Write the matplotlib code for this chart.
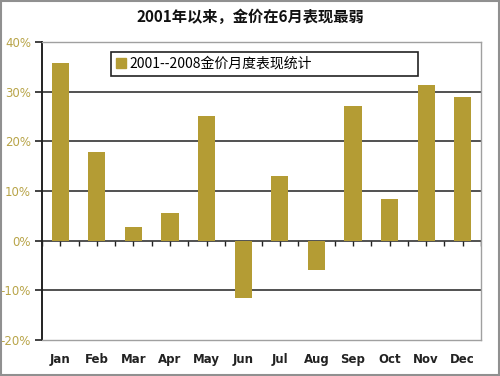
import matplotlib
matplotlib.use("Agg")
import matplotlib.pyplot as plt
import numpy as np
from matplotlib.patches import Rectangle, Patch

months = ["Jan", "Feb", "Mar", "Apr", "May", "Jun", "Jul", "Aug", "Sep", "Oct", "Nov", "Dec"]
values = [35.8, 17.9, 2.8, 5.6, 25.2, -11.5, 13.1, -5.8, 27.2, 8.5, 31.4, 29.0]
yticks = [40, 30, 20, 10, 0, -10, -20]
title = "2001年以来，金价在6月表现最弱"
legend_label = "2001--2008金价月度表现统计"

plt.rcParams['font.family'] = ['Noto Sans CJK SC', 'DejaVu Sans']

bar_color = "#b49c34"
tick_color = "#b8a448"

fig = plt.figure(figsize=(5, 3.76), dpi=100)
ax = fig.add_axes([0.084, 0.0957, 0.878, 0.7923])

x = np.arange(len(months))
ax.bar(x, values, width=0.47, color=bar_color, zorder=3, label=legend_label)

ax.set_xlim(-0.5, len(months) - 0.5)
ax.set_ylim(-20, 40)

for v in yticks:
    if v not in (40, -20):
        ax.axhline(v, color="#222222", lw=1.1, zorder=2)

# small tick marks along zero line
tx = np.arange(-0.5, len(months), 0.5)
ax.vlines(tx, 0, -1.0, color="#222222", lw=1.0, zorder=2)

ax.set_yticks(yticks)
ax.set_yticklabels([f"{v}%" for v in yticks], color=tick_color, fontsize=8.5,
                   family=['Liberation Sans Narrow', 'DejaVu Sans'])
ax.tick_params(axis='y', length=5, width=1.2, color="#222222", pad=3)
ax.set_xticks(x)
ax.set_xticklabels(months, fontsize=8.5, fontweight='bold', color="#222222",
                   family=['Liberation Sans Narrow', 'DejaVu Sans'])
ax.tick_params(axis='x', length=0, pad=9)

for s in ['top', 'right', 'bottom']:
    ax.spines[s].set_color("#a0a0a0")
    ax.spines[s].set_linewidth(1.0)
ax.spines['left'].set_color("#222222")
ax.spines['left'].set_linewidth(1.4)

fig.text(0.5, 0.955, title, ha='center', va='center', fontsize=11, fontweight='bold',
         color="#111111")

leg = fig.legend(handles=[Patch(facecolor=bar_color, edgecolor=bar_color, label=legend_label)],
                 loc='upper left', bbox_to_anchor=(111/500, 1-78/376, (418-111)/500, 26/376),
                 mode='expand', fancybox=False, edgecolor="#222222", framealpha=1,
                 fontsize=10, handlelength=0.7, handleheight=0.7, handletextpad=0.3,
                 borderpad=0.35, borderaxespad=0)
leg.get_frame().set_linewidth(1.2)

fig.patches.append(Rectangle((0.002, 0.003), 0.996, 0.994, transform=fig.transFigure,
                             fill=False, edgecolor="#909090", lw=1.5))

fig.savefig("out.png", dpi=100)
